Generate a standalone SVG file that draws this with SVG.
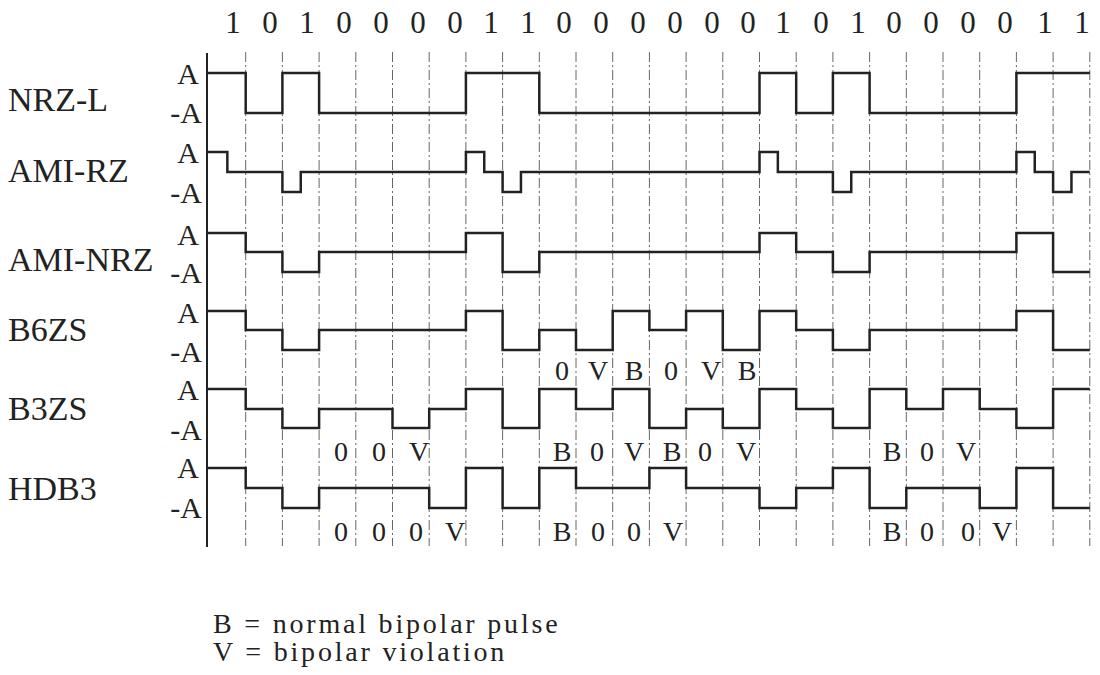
<svg xmlns="http://www.w3.org/2000/svg" width="1100" height="675" viewBox="0 0 1100 675">
  <style>
    text { font-family: "Liberation Serif", "Times New Roman", serif; fill: #222; }
    .bit { font-size: 31px; text-anchor: middle; }
    .name { font-size: 34px; }
    .lvl { font-size: 30px; text-anchor: end; }
    .mark { font-size: 28px; text-anchor: middle; }
    .legend { font-size: 28px; letter-spacing: 2.8px; }
    .wave { fill: none; stroke: #222; stroke-width: 2.5; stroke-linejoin: miter; }
    .grid { stroke: #666; stroke-width: 1; stroke-dasharray: 10 3 2 3; }
    .axis { stroke: #222; stroke-width: 2; }
  </style>
  <rect width="1100" height="675" fill="#fff"/>

  <!-- bit-cell boundaries: x = 209 + 36.7k -->
  <g id="grid">
    <line class="grid" x1="245.7" y1="52" x2="245.7" y2="546"/>
    <line class="grid" x1="282.4" y1="52" x2="282.4" y2="546"/>
    <line class="grid" x1="319.1" y1="52" x2="319.1" y2="546"/>
    <line class="grid" x1="355.8" y1="52" x2="355.8" y2="546"/>
    <line class="grid" x1="392.5" y1="52" x2="392.5" y2="546"/>
    <line class="grid" x1="429.2" y1="52" x2="429.2" y2="546"/>
    <line class="grid" x1="465.9" y1="52" x2="465.9" y2="546"/>
    <line class="grid" x1="502.6" y1="52" x2="502.6" y2="546"/>
    <line class="grid" x1="539.3" y1="52" x2="539.3" y2="546"/>
    <line class="grid" x1="576" y1="52" x2="576" y2="546"/>
    <line class="grid" x1="612.7" y1="52" x2="612.7" y2="546"/>
    <line class="grid" x1="649.4" y1="52" x2="649.4" y2="546"/>
    <line class="grid" x1="686.1" y1="52" x2="686.1" y2="546"/>
    <line class="grid" x1="722.8" y1="52" x2="722.8" y2="546"/>
    <line class="grid" x1="759.5" y1="52" x2="759.5" y2="546"/>
    <line class="grid" x1="796.2" y1="52" x2="796.2" y2="546"/>
    <line class="grid" x1="832.9" y1="52" x2="832.9" y2="546"/>
    <line class="grid" x1="869.6" y1="52" x2="869.6" y2="546"/>
    <line class="grid" x1="906.3" y1="52" x2="906.3" y2="546"/>
    <line class="grid" x1="943" y1="52" x2="943" y2="546"/>
    <line class="grid" x1="979.7" y1="52" x2="979.7" y2="546"/>
    <line class="grid" x1="1016.4" y1="52" x2="1016.4" y2="546"/>
    <line class="grid" x1="1053.1" y1="52" x2="1053.1" y2="546"/>
    <line class="grid" x1="1089.8" y1="52" x2="1089.8" y2="546"/>
    <line class="axis" x1="207" y1="53" x2="207" y2="547"/>
  </g>

  <!-- data bits -->
  <g id="bits">
    <text class="bit" x="233" y="33">1</text>
    <text class="bit" x="270" y="33">0</text>
    <text class="bit" x="307" y="33">1</text>
    <text class="bit" x="344" y="33">0</text>
    <text class="bit" x="381" y="33">0</text>
    <text class="bit" x="418" y="33">0</text>
    <text class="bit" x="455" y="33">0</text>
    <text class="bit" x="491" y="33">1</text>
    <text class="bit" x="528" y="33">1</text>
    <text class="bit" x="564" y="33">0</text>
    <text class="bit" x="601" y="33">0</text>
    <text class="bit" x="638" y="33">0</text>
    <text class="bit" x="675" y="33">0</text>
    <text class="bit" x="712" y="33">0</text>
    <text class="bit" x="748" y="33">0</text>
    <text class="bit" x="783" y="33">1</text>
    <text class="bit" x="821" y="33">0</text>
    <text class="bit" x="858" y="33">1</text>
    <text class="bit" x="894" y="33">0</text>
    <text class="bit" x="931" y="33">0</text>
    <text class="bit" x="968" y="33">0</text>
    <text class="bit" x="1005" y="33">0</text>
    <text class="bit" x="1045" y="33">1</text>
    <text class="bit" x="1082" y="33">1</text>
  </g>

  <g id="nrz-l">
    <text class="name" x="8" y="111">NRZ-L</text>
    <text class="lvl" x="199" y="84">A</text>
    <text class="lvl" x="202" y="123">-A</text>
    <path class="wave" d="M207,73 H245.7 V113 H282.4 V73 H319.1 V113 H465.9 V73 H539.3 V113 H759.5 V73 H796.2 V113 H832.9 V73 H869.6 V113 H1016.4 V73 H1089.8"/>
  </g>

  <g id="ami-rz">
    <text class="name" x="8" y="182">AMI-RZ</text>
    <text class="lvl" x="199" y="163">A</text>
    <text class="lvl" x="202" y="203">-A</text>
    <path class="wave" d="M207,152 H227.35 V172 H282.4 V192 H300.75 V172 H465.9 V152 H484.25 V172 H502.6 V192 H520.95 V172 H759.5 V152 H777.85 V172 H832.9 V192 H851.25 V172 H1016.4 V152 H1034.75 V172 H1053.1 V192 H1071.45 V172 H1089.8"/>
  </g>

  <g id="ami-nrz">
    <text class="name" x="8" y="271">AMI-NRZ</text>
    <text class="lvl" x="199" y="245">A</text>
    <text class="lvl" x="202" y="283">-A</text>
    <path class="wave" d="M207,233 H245.7 V252 H282.4 V272 H319.1 V252 H465.9 V233 H502.6 V272 H539.3 V252 H759.5 V233 H796.2 V252 H832.9 V272 H869.6 V252 H1016.4 V233 H1053.1 V272 H1089.8"/>
  </g>

  <g id="b6zs">
    <text class="name" x="8" y="341">B6ZS</text>
    <text class="lvl" x="199" y="323">A</text>
    <text class="lvl" x="202" y="362">-A</text>
    <path class="wave" d="M207,311 H245.7 V330 H282.4 V350 H319.1 V330 H465.9 V311 H502.6 V350 H539.3 V330 H576 V350 H612.7 V311 H649.4 V330 H686.1 V311 H722.8 V350 H759.5 V311 H796.2 V330 H832.9 V350 H869.6 V330 H1016.4 V311 H1053.1 V350 H1089.8"/>
    <text class="mark" x="562" y="380">0</text>
    <text class="mark" x="598" y="380">V</text>
    <text class="mark" x="634" y="380">B</text>
    <text class="mark" x="671" y="380">0</text>
    <text class="mark" x="711" y="380">V</text>
    <text class="mark" x="747" y="380">B</text>
  </g>

  <g id="b3zs">
    <text class="name" x="8" y="420">B3ZS</text>
    <text class="lvl" x="199" y="400">A</text>
    <text class="lvl" x="202" y="440">-A</text>
    <path class="wave" d="M207,389 H245.7 V409 H282.4 V428 H319.1 V409 H392.5 V428 H429.2 V409 H465.9 V389 H502.6 V428 H539.3 V389 H576 V409 H612.7 V389 H649.4 V428 H686.1 V409 H722.8 V428 H759.5 V389 H796.2 V409 H832.9 V428 H869.6 V389 H906.3 V409 H943 V389 H979.7 V409 H1016.4 V428 H1053.1 V389 H1089.8"/>
    <text class="mark" x="341" y="461">0</text>
    <text class="mark" x="379" y="461">0</text>
    <text class="mark" x="419" y="461">V</text>
    <text class="mark" x="562" y="461">B</text>
    <text class="mark" x="597" y="461">0</text>
    <text class="mark" x="634" y="461">V</text>
    <text class="mark" x="672" y="461">B</text>
    <text class="mark" x="705" y="461">0</text>
    <text class="mark" x="746" y="461">V</text>
    <text class="mark" x="892" y="461">B</text>
    <text class="mark" x="927" y="461">0</text>
    <text class="mark" x="966" y="461">V</text>
  </g>

  <g id="hdb3">
    <text class="name" x="8" y="500">HDB3</text>
    <text class="lvl" x="199" y="478">A</text>
    <text class="lvl" x="202" y="518">-A</text>
    <path class="wave" d="M207,468 H245.7 V488 H282.4 V508 H319.1 V488 H429.2 V508 H465.9 V468 H502.6 V508 H539.3 V468 H576 V488 H649.4 V468 H686.1 V488 H759.5 V508 H796.2 V488 H832.9 V468 H869.6 V508 H906.3 V488 H979.7 V508 H1016.4 V468 H1053.1 V508 H1089.8"/>
    <text class="mark" x="341" y="541">0</text>
    <text class="mark" x="379" y="541">0</text>
    <text class="mark" x="416" y="541">0</text>
    <text class="mark" x="455" y="541">V</text>
    <text class="mark" x="562" y="541">B</text>
    <text class="mark" x="598" y="541">0</text>
    <text class="mark" x="634" y="541">0</text>
    <text class="mark" x="673" y="541">V</text>
    <text class="mark" x="892" y="541">B</text>
    <text class="mark" x="927" y="541">0</text>
    <text class="mark" x="968" y="541">0</text>
    <text class="mark" x="1002" y="541">V</text>
  </g>

  <!-- key to the B / V marks -->
  <g id="legend">
    <text class="legend" x="213" y="633">B = normal bipolar pulse</text>
    <text class="legend" x="213" y="661">V = bipolar violation</text>
  </g>
</svg>
